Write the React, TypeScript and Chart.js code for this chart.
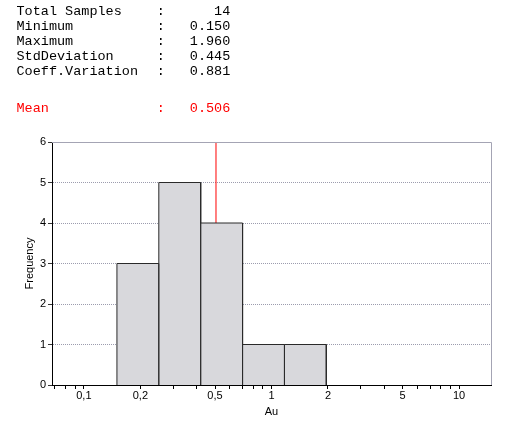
import React, { useEffect, useRef } from "react";
import { Chart, registerables } from "chart.js";

Chart.register(...registerables);

const STAT_LABELS = ["Total Samples", "Minimum", "Maximum", "StdDeviation", "Coeff.Variation"];
const STAT_VALUES = ["14", "0.150", "1.960", "0.445", "0.881"];
const MEAN_LABEL = "Mean";
const MEAN_VALUE = 0.506;

const BIN_EDGES = [0.15, 0.2508, 0.4194, 0.7012, 1.1724, 1.96];
const COUNTS = [3, 5, 4, 1, 1];

const X_TICKS = [0.07, 0.08, 0.09, 0.1, 0.2, 0.3, 0.4, 0.5, 0.6, 0.7, 0.8, 0.9, 1, 2, 3, 4, 5, 6, 7, 8, 9, 10];
const X_LABEL_VALUES = [0.1, 0.2, 0.5, 1, 2, 5, 10];
const X_LABEL_TEXT = ["0,1", "0,2", "0,5", "1", "2", "5", "10"];
const X_MIN = 0.0676;
const X_MAX = 14.8;
const Y_MAX = 6;

export default function App() {
  const ref = useRef<HTMLCanvasElement | null>(null);

  useEffect(() => {
    if (!ref.current) return;
    const histPoints: { x: number; y: number }[] = [];
    for (let i = 0; i < COUNTS.length; i++) {
      histPoints.push({ x: BIN_EDGES[i], y: 0 });
      histPoints.push({ x: BIN_EDGES[i], y: COUNTS[i] });
      histPoints.push({ x: BIN_EDGES[i + 1], y: COUNTS[i] });
      histPoints.push({ x: BIN_EDGES[i + 1], y: 0 });
    }

    const textPlugin = {
      id: "stats",
      afterDraw(chart: any) {
        const ctx = chart.ctx;
        ctx.save();
        ctx.font = '13.5px "Liberation Mono", "Courier New", monospace';
        ctx.textBaseline = "alphabetic";
        const ys = [15.3, 30, 45, 60, 75.3];
        STAT_LABELS.forEach((lab, i) => {
          ctx.fillStyle = "#000";
          ctx.textAlign = "left";
          ctx.fillText(lab, 16.5, ys[i]);
          ctx.textAlign = "center";
          ctx.fillText(":", 160.7, ys[i]);
          ctx.textAlign = "right";
          ctx.fillText(STAT_VALUES[i], 230.3, ys[i]);
        });
        ctx.fillStyle = "#ff0000";
        ctx.textAlign = "left";
        ctx.fillText(MEAN_LABEL, 16.5, 112);
        ctx.textAlign = "center";
        ctx.fillText(":", 160.7, 112);
        ctx.textAlign = "right";
        ctx.fillText(MEAN_VALUE.toFixed(3), 230.3, 112);
        // frame top / right
        const a = chart.chartArea;
        ctx.strokeStyle = "#a4a4b4";
        ctx.lineWidth = 1;
        ctx.beginPath();
        ctx.moveTo(Math.round(a.left), Math.round(a.top) + 0.5);
        ctx.lineTo(Math.round(a.right) + 0.5, Math.round(a.top) + 0.5);
        ctx.lineTo(Math.round(a.right) + 0.5, Math.round(a.bottom));
        ctx.stroke();
        ctx.restore();
      },
    };

    const chart = new Chart(ref.current, {
      type: "line",
      data: {
        datasets: [
          {
            label: "hist",
            data: histPoints,
            borderColor: "#2a2a2a",
            borderWidth: 1,
            backgroundColor: "#d8d8dc",
            fill: "origin",
            pointRadius: 0,
            tension: 0,
            order: 1,
          },
          {
            label: "mean",
            data: [
              { x: MEAN_VALUE, y: 0 },
              { x: MEAN_VALUE, y: Y_MAX },
            ],
            borderColor: "#ff0000",
            borderWidth: 1,
            fill: false,
            pointRadius: 0,
            order: 2,
          },
        ],
      },
      options: {
        animation: false,
        responsive: false,
        events: [],
        layout: { padding: { top: 142, right: 22, left: 0, bottom: 0 } },
        plugins: {
          legend: { display: false },
          tooltip: { enabled: false },
          title: { display: false },
        },
        scales: {
          x: {
            type: "logarithmic",
            min: X_MIN,
            max: X_MAX,
            bounds: "data",
            afterBuildTicks: (scale: any) => {
              scale.ticks = X_TICKS.map((v) => ({ value: v }));
            },
            afterFit: (scale: any) => {
              scale.height = 39;
            },
            ticks: {
              autoSkip: false,
              maxRotation: 0,
              minRotation: 0,
              padding: 0,
              color: "#000",
              font: { family: '"Liberation Sans", Arial, sans-serif', size: 11 },
              callback: (value: any) => {
                const idx = X_LABEL_VALUES.findIndex((v) => Math.abs(v - Number(value)) < 1e-9);
                return idx >= 0 ? X_LABEL_TEXT[idx] : "";
              },
            },
            grid: {
              drawOnChartArea: false,
              drawTicks: true,
              tickLength: 4,
              tickColor: "#000",
            },
            border: { display: true, color: "#000", width: 1 },
            title: {
              display: true,
              text: "Au",
              color: "#000",
              font: { family: '"Liberation Sans", Arial, sans-serif', size: 11 },
              padding: { top: 0, bottom: 5 },
            },
          },
          y: {
            type: "linear",
            min: 0,
            max: Y_MAX,
            afterFit: (scale: any) => {
              scale.width = 52;
            },
            ticks: {
              stepSize: 1,
              padding: 2,
              color: "#000",
              font: { family: '"Liberation Sans", Arial, sans-serif', size: 11 },
            },
            grid: {
              color: "#9c9cae",
              tickColor: "#333",
              tickLength: 4,
              lineWidth: 1,
            },
            border: { display: true, color: "#000", width: 1, dash: [1, 1] },
            title: {
              display: true,
              text: "Frequency",
              color: "#000",
              font: { family: '"Liberation Sans", Arial, sans-serif', size: 11 },
              padding: { top: 23, bottom: 0 },
            },
          },
        },
      },
      plugins: [textPlugin],
    } as any);

    return () => chart.destroy();
  }, []);

  return (
    <canvas
      ref={ref}
      width={513}
      height={424}
      style={{ position: "absolute", left: 0, top: 0, display: "block" }}
    />
  );
}
